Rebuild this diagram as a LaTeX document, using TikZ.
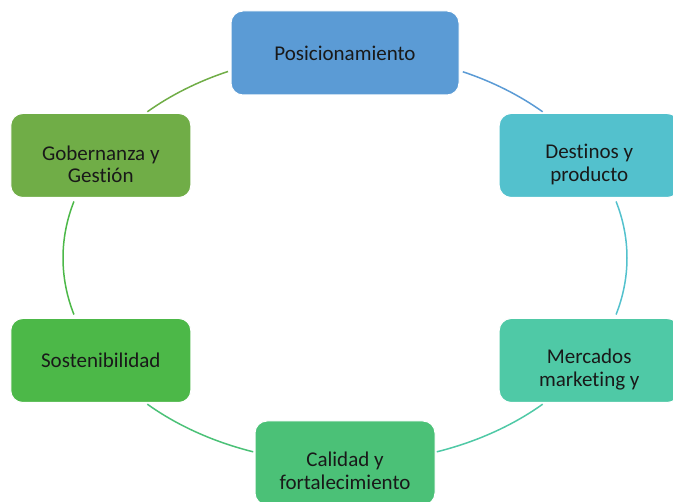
\documentclass[tikz,border=0pt]{standalone}
\usepackage{fontspec}
\setmainfont{Carlito}[Ligatures=NoCommon]
\usetikzlibrary{positioning}

\definecolor{posblue}{HTML}{5B9BD5}
\definecolor{destcyan}{HTML}{53C1CD}
\definecolor{mercteal}{HTML}{4FC9A6}
\definecolor{calgreen}{HTML}{4BC177}
\definecolor{sostgreen}{HTML}{4CB848}
\definecolor{gobolive}{HTML}{70AD47}

\begin{document}
\begin{tikzpicture}[x=1pt, y=1pt,
		box/.style={rounded corners=12pt, draw=white, line width=1pt,
			minimum width=180pt, minimum height=84pt, inner sep=0pt},
		lbl/.style={align=center, text=black!90,
			font=\fontsize{21}{22.5}\selectfont},
		ring/.style={line width=1.5pt}]
	\useasboundingbox (0,0) rectangle (673,502);
	\clip (0,0) rectangle (673,502);
	\coordinate (c) at (345,244);

	% Draw ring segments
	\foreach \a/\b/\col in {65.3/45.5/posblue, 16/-16/destcyan, -45.5/-71/mercteal,
			-109/-134.5/calgreen, -164/-196/sostgreen, 134.5/114.5/gobolive}
		\draw[ring, \col] ([shift={(\a:282pt and 205pt)}]c)
			arc[start angle=\a, end angle=\b, x radius=282pt, y radius=205pt];

	% Draw boxes
	\node[box, fill=posblue, minimum width=228pt] (pos) at ([shift={(90:282pt and 205pt)}]c) {};
	\node[box, fill=destcyan] (dest) at ([shift={(30:282pt and 205pt)}]c) {};
	\node[box, fill=mercteal] (merc) at ([shift={(-30:282pt and 205pt)}]c) {};
	\node[box, fill=calgreen] (cal) at ([shift={(-90:282pt and 205pt)}]c) {};
	\node[box, fill=sostgreen] (sost) at ([shift={(210:282pt and 205pt)}]c) {};
	\node[box, fill=gobolive] (gob) at ([shift={(150:282pt and 205pt)}]c) {};

	% Draw labels
	\node[lbl] (posl) at (pos) {Posicionamiento};
	\node[lbl] (destl) at ([yshift=-9pt]dest) {Destinos y\\producto};
	\node[lbl] (mercl) at ([yshift=-9pt]merc) {Mercados\\marketing y};
	\node[lbl] (call) at ([yshift=-8pt]cal) {Calidad y\\fortalecimiento};
	\node[lbl] (sostl) at (sost) {Sostenibilidad};
	\node[lbl] (gobl) at ([yshift=-9pt]gob) {Gobernanza y\\Gestión};
\end{tikzpicture}
\end{document}
